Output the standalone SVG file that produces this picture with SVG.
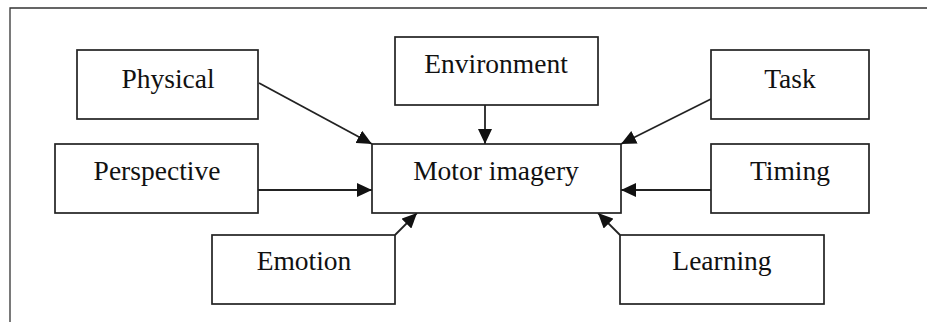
<svg xmlns="http://www.w3.org/2000/svg" width="927" height="322" viewBox="0 0 927 322">
<style>
.box{fill:#fff;stroke:#222;stroke-width:1.7}
.lbl{font-family:"Liberation Serif","Times New Roman",serif;font-size:27.5px;fill:#111;text-anchor:middle}
.edge{stroke:#222;stroke-width:1.8;fill:none}
</style>
<defs>
<marker id="ah" markerWidth="15" markerHeight="14" refX="15" refY="7" orient="auto" markerUnits="userSpaceOnUse">
<path d="M0,0 L15,7 L0,14 Z" fill="#111"/>
</marker>
</defs>
<rect x="0" y="0" width="927" height="322" fill="#fff"/>
<path d="M10,322 L10,8 L927,8" fill="none" stroke="#333" stroke-width="1.3"/>
<g id="connectors">
<line class="edge" x1="259" y1="83" x2="372" y2="144" marker-end="url(#ah)"/>
<line class="edge" x1="258" y1="190" x2="372" y2="190" marker-end="url(#ah)"/>
<line class="edge" x1="395" y1="235" x2="417" y2="213" marker-end="url(#ah)"/>
<line class="edge" x1="485" y1="105" x2="485" y2="144" marker-end="url(#ah)"/>
<line class="edge" x1="711" y1="99" x2="621" y2="144" marker-end="url(#ah)"/>
<line class="edge" x1="711" y1="190" x2="621" y2="190" marker-end="url(#ah)"/>
<line class="edge" x1="620" y1="235" x2="598" y2="213" marker-end="url(#ah)"/>
</g>
<g id="physical"><rect class="box" x="77" y="50" width="181" height="69"/><text class="lbl" x="168" y="88">Physical</text></g>
<g id="perspective"><rect class="box" x="55" y="144" width="203" height="69"/><text class="lbl" x="157" y="180">Perspective</text></g>
<g id="motor-imagery"><rect class="box" x="372" y="144" width="249" height="69"/><text class="lbl" x="496" y="180">Motor imagery</text></g>
<g id="emotion"><rect class="box" x="212" y="235" width="183" height="69"/><text class="lbl" x="304" y="270">Emotion</text></g>
<g id="environment"><rect class="box" x="395" y="37" width="203" height="68"/><text class="lbl" x="496" y="73">Environment</text></g>
<g id="task"><rect class="box" x="711" y="50" width="158" height="69"/><text class="lbl" x="790" y="88">Task</text></g>
<g id="timing"><rect class="box" x="711" y="144" width="158" height="69"/><text class="lbl" x="790" y="180">Timing</text></g>
<g id="learning"><rect class="box" x="620" y="235" width="204" height="69"/><text class="lbl" x="722" y="270">Learning</text></g>
</svg>
